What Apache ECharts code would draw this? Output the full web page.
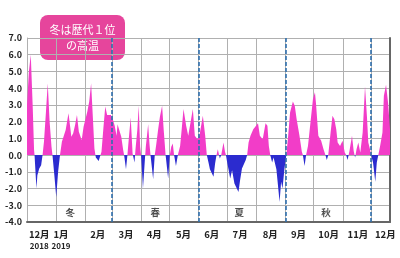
<!DOCTYPE html>
<html><head><meta charset="utf-8">
<script src="https://cdn.jsdelivr.net/npm/echarts@6/dist/echarts.min.js"></script>
<style>html,body{margin:0;padding:0;background:#fff}#c{width:400px;height:258px}</style>
</head><body><div id="c"></div>
<script>
// day index from 2018-12-01 and temperature anomaly (°C)
const days = [0,2,4,6,7.5,8,9,10,11,13,15,16.5,18,20,22,24,26,27,29,31,33,35,37,39,41,44,46,47,49,51,53,55,58,60,62,64,66,68,70,71.5,73,76,78,79,81,83,85,87,89,91,93,95,96,98,100,102,103,105,106.5,108,110,112,114,115,117,118.5,120,121,123,125,126,128.5,130,131,133.8,135.5,137,139,141,143.3,145,147,149.7,151.5,153,154.6,156,158,160,162.4,164,166,168.8,171,173,175.9,178,180.8,183,186.5,189,190.7,192.5,194,196,197.8,199.5,201,202.4,204.5,206,208.4,210,211,212.5,213.7,215.5,217.5,220,222,224.3,226,228,230,232,233.5,235,237,240,242,245,247,250,253,255,256.5,258,260,261.5,263,264.5,267.9,269.5,271,273,275,277,279,282,284,286,289,291.5,292.6,294.4,296,298,301,303.3,305.4,306.5,309,312,314.5,316.5,318,319.5,322,324,326,328,329.5,332,334.7,337,338.5,340,342,344.7,346.5,348,349.5,351.4,353.5,356,358.5,360.5,362,363.8,365,367,369.4,371,372.6,374.5,377,378.5,380.8,383,385];
const values = [3.0,5.0,6.0,3.0,0.3,0,-1.0,-2.0,-1.2,-0.8,-0.6,0,0.8,2.5,4.3,2.0,0.5,0,-1.2,-2.5,-1.0,0,0.8,0.9,1.5,2.5,1.6,1.1,1.3,1.8,2.4,1.4,0.9,1.7,1.6,2.6,3.2,4.3,2.1,0.4,-0.15,-0.35,-0.3,0.2,1.6,2.9,2.4,2.35,2.4,2.15,1.75,1.15,1.85,1.95,1.1,0.3,0,-0.85,0,1.0,2.25,0.1,-0.45,0.3,1.5,2.95,0.5,0,-2.0,-0.3,0.5,1.85,0.6,0,-1.45,0,0.6,1.5,2.3,2.95,1.5,0,-1.4,0,0.5,0.7,0,-0.65,0,0.55,1.5,2.75,1.75,1.15,1.1,2.75,1.15,0.95,1.2,2.35,1.15,0,-0.45,-0.85,-0.75,-1.3,-0.5,0,0.35,-0.2,0,0.75,0.2,0,-0.5,-0.85,-1.4,-0.9,-1.7,-1.6,-2.2,-1.5,-0.8,-0.9,-0.3,0,0.75,1.15,1.55,1.6,1.9,1.15,0.95,1.9,1.75,0.55,0,-0.45,-0.15,-0.05,-0.85,-2.8,-1.6,-2.0,-0.85,0,1.15,2.55,3.2,2.95,2.15,1.15,0.2,0,-0.65,0,0.55,2.15,3.35,3.75,3.1,1.15,0.85,0.35,0,-0.3,0,1.35,2.35,2.15,1.55,0.75,0.55,0.85,0.15,0,-0.3,0.25,1.15,0.25,-0.15,0.35,0.75,0.15,1.35,4.1,2.35,0.75,0.35,0,-0.45,-1.6,-0.45,0,0.55,1.35,3.55,4.2,3.1,1.55];
const monthStarts = [0,31,62,90,121,151,182,212,243,274,304,335,365];
const monthLabelDays = [13,36,75,105,135,166,196,226,258,288,320,351,380];
const monthLabels = ['12月','1月','2月','3月','4月','5月','6月','7月','8月','9月','10月','11月','12月'];
const yearLabels = ['2018','2019'];
const seasonBounds = [90,182,274,365];
const seasonNames = ['冬','春','夏','秋'];
const seasonLabelDays = [46,136,225,317];
const noteLines = ['冬は歴代１位','の高温'];

const PINK = '#F23DC8', BLUE = '#2B2BCF';
const font = "'Noto Sans CJK JP', 'Noto Sans', sans-serif";
// area polygon spans from max value down to min(min value, 0): hard colour stop at zero
const vMax = Math.max.apply(null, values), vMin = Math.min(0, Math.min.apply(null, values));
const zeroOff = vMax / (vMax - vMin);
const fillGrad = {type:'linear',x:0,y:0,x2:0,y2:1,colorStops:[
  {offset:0,color:PINK},{offset:zeroOff,color:PINK},{offset:zeroOff,color:BLUE},{offset:1,color:BLUE}]};

const chart = echarts.init(document.getElementById('c'), null, {renderer:'canvas'});
chart.setOption({
  animation:false,
  grid:{left:27,right:10,top:38,bottom:36},
  xAxis:[{
    type:'value', min:0, max:385,
    axisLine:{show:true,onZero:false,lineStyle:{color:'#666',width:2}},
    axisTick:{show:false,customValues:monthStarts},
    splitLine:{show:true,lineStyle:{color:'#b0b0b0',width:1}},
    axisLabel:{
      customValues:monthLabelDays, margin:6, color:'#222', fontFamily:font, fontSize:9, fontWeight:'bold', lineHeight:12,
      formatter:function(v){const i=monthLabelDays.indexOf(v);let s='{m|'+monthLabels[i]+'}';if(i<yearLabels.length)s+='\n{y|'+yearLabels[i]+'}';return s;},
      rich:{m:{fontSize:9.5,fontWeight:'bold',fontFamily:font,color:'#222',lineHeight:12},y:{fontSize:8,fontWeight:'bold',fontFamily:font,color:'#222',lineHeight:12}}
    }
  }],
  yAxis:[{
    type:'value', min:-4, max:7, interval:1,
    axisLine:{show:true,lineStyle:{color:'#b0b0b0'}},
    axisTick:{show:false},
    splitLine:{show:true,lineStyle:{color:'#b0b0b0',width:1}},
    axisLabel:{margin:5,color:'#222',fontFamily:font,fontSize:9,fontWeight:'bold',formatter:function(v){return v.toFixed(1);}}
  },{
    type:'value', min:-4, max:7, interval:1, position:'right',
    axisLine:{show:true,lineStyle:{color:'#666',width:2}},
    axisTick:{show:false}, axisLabel:{show:false}, splitLine:{show:false}
  }],
  series:[{
    type:'line', data:days.map((d,i)=>[d,values[i]]),
    showSymbol:false, symbol:'none', lineStyle:{width:0}, itemStyle:{color:PINK},
    areaStyle:{opacity:1,color:fillGrad}, z:2,
    markLine:{silent:true,symbol:'none',label:{show:false},
      lineStyle:{color:'#2F6FAD',type:[4,2],width:1.6},
      data:seasonBounds.map(d=>({xAxis:d}))}
  },{
    type:'scatter', symbolSize:0, z:5,
    data:seasonLabelDays.map(d=>[d,-3.45]),
    label:{show:true,position:'inside',fontFamily:font,fontSize:9.5,fontWeight:'bold',color:'#222',
      formatter:function(p){return seasonNames[p.dataIndex];}}
  }],
  graphic:[{
    type:'group', left:40, top:15, z:10,
    children:[
      {type:'rect',shape:{x:0,y:0,width:85,height:45,r:8},style:{fill:'#E6459C'}},
      {type:'text',style:{x:42.5,y:15,text:noteLines[0],fill:'#fff',font:"11px "+font,textAlign:'center',textVerticalAlign:'middle'}},
      {type:'text',style:{x:42.5,y:31,text:noteLines[1],fill:'#fff',font:"11px "+font,textAlign:'center',textVerticalAlign:'middle'}}
    ]
  }]
});
</script></body></html>
